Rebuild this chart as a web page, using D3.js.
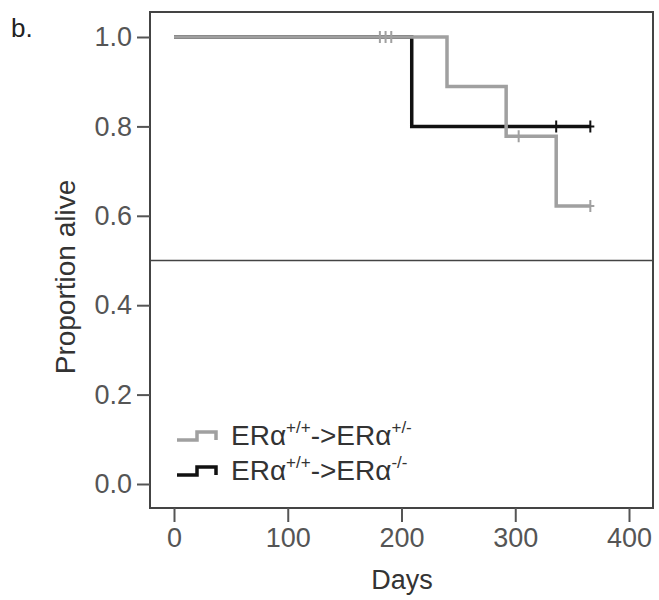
<!DOCTYPE html>
<html>
<head>
<meta charset="utf-8">
<script src="https://cdn.jsdelivr.net/npm/d3@7"></script>
<style>
  body { margin: 0; background: #fff; }
  text { font-family: "Liberation Sans", Arial, sans-serif; }
</style>
</head>
<body>
<script>
var width = 659,
    height = 600;

// Kaplan-Meier steps
var hetDays = [0, 240, 292, 336, 366],
    hetSurv = [1.0, 0.889, 0.778, 0.622, 0.622],
    hetCensor = [181, 186, 191, 303, 366];

var koDays = [0, 209, 366],
    koSurv = [1.0, 0.8, 0.8],
    koCensor = [336, 366];

var xTicks = [0, 100, 200, 300, 400],
    yTicks = [0, 0.2, 0.4, 0.6, 0.8, 1.0];

var frame = {left: 150, top: 12, right: 653, bottom: 508};

var svg = d3.select("body")
    .append("svg")
    .attr("width", width)
    .attr("height", height);

var x = d3.scaleLinear().domain([0, 400]).range([174, 629]),
    y = d3.scaleLinear().domain([0, 1]).range([484, 37]);

// frame
svg.append("rect")
    .attr("x", frame.left)
    .attr("y", frame.top)
    .attr("width", frame.right - frame.left)
    .attr("height", frame.bottom - frame.top)
    .attr("fill", "none")
    .attr("stroke", "#444")
    .attr("stroke-width", 2);

// reference line at 0.5
svg.append("line")
    .attr("x1", frame.left).attr("x2", frame.right)
    .attr("y1", y(0.5)).attr("y2", y(0.5))
    .attr("stroke", "#444")
    .attr("stroke-width", 1.5);

// axes
var yAxis = svg.append("g")
    .attr("transform", "translate(" + frame.left + ",0)")
    .call(d3.axisLeft(y).tickValues(yTicks).tickFormat(d3.format(".1f")).tickSize(13).tickPadding(5));

var xAxis = svg.append("g")
    .attr("transform", "translate(0," + frame.bottom + ")")
    .call(d3.axisBottom(x).tickValues(xTicks).tickFormat(d3.format("d")).tickSize(14).tickPadding(6));

[yAxis, xAxis].forEach(function(g) {
  g.select(".domain").remove();
  g.selectAll(".tick line").attr("stroke", "#555").attr("stroke-width", 2);
  g.selectAll(".tick text")
    .attr("fill", "#555")
    .style("font-size", "27px")
    .style("font-family", "'Liberation Sans', Arial, sans-serif");
});

svg.append("text")
    .attr("x", 402)
    .attr("y", 589)
    .attr("text-anchor", "middle")
    .attr("fill", "#333")
    .style("font-size", "27px")
    .text("Days");

svg.append("text")
    .attr("transform", "translate(75,277) rotate(-90)")
    .attr("text-anchor", "middle")
    .attr("fill", "#333")
    .style("font-size", "28px")
    .text("Proportion alive");

svg.append("text")
    .attr("x", 11)
    .attr("y", 37)
    .attr("fill", "#222")
    .style("font-size", "26px")
    .text("b.");

// survival curves
function stepPoints(days, surv) {
  return days.map(function(d, i) { return [d, surv[i]]; });
}

function survAt(days, surv, t) {
  var i = d3.bisectRight(days, t) - 1;
  return surv[Math.max(0, i)];
}

var line = d3.line()
    .x(function(d) { return x(d[0]); })
    .y(function(d) { return y(d[1]); })
    .curve(d3.curveStepAfter);

function drawCurve(days, surv, censor, color) {
  var g = svg.append("g");
  g.append("path")
      .datum(stepPoints(days, surv))
      .attr("d", line)
      .attr("fill", "none")
      .attr("stroke", color)
      .attr("stroke-width", 3.5);
  g.selectAll("path.censor")
      .data(censor)
      .enter().append("path")
      .attr("class", "censor")
      .attr("d", function(t) {
        var cx = x(t), cy = y(survAt(days, surv, t));
        return "M" + cx + "," + (cy - 6) + "V" + (cy + 6) +
               "M" + (cx - 4) + "," + cy + "H" + (cx + 4);
      })
      .attr("fill", "none")
      .attr("stroke", color)
      .attr("stroke-width", 2);
}

drawCurve(koDays, koSurv, koCensor, "#111");
drawCurve(hetDays, hetSurv, hetCensor, "#a0a0a0");

// legend
var legend = [
  {color: "#a0a0a0", sup1: "+/+", sup2: "+/-"},
  {color: "#111", sup1: "+/+", sup2: "-/-"}
];

var lg = svg.selectAll("g.legend")
    .data(legend)
    .enter().append("g")
    .attr("class", "legend")
    .attr("transform", function(d, i) { return "translate(0," + (445 + i * 35) + ")"; });

lg.append("path")
    .attr("d", "M177,-5H197V-13H216V-5")
    .attr("fill", "none")
    .attr("stroke", function(d) { return d.color; })
    .attr("stroke-width", 3.5);

var lt = lg.append("text")
    .attr("x", 231)
    .attr("y", 0)
    .attr("fill", "#333")
    .style("font-size", "28px");

lt.append("tspan").text("ERα");
lt.append("tspan").attr("dy", -12).style("font-size", "17px").text(function(d) { return d.sup1; });
lt.append("tspan").attr("dy", 12).text("->ERα");
lt.append("tspan").attr("dy", -12).style("font-size", "17px").text(function(d) { return d.sup2; });
</script>
</body>
</html>
